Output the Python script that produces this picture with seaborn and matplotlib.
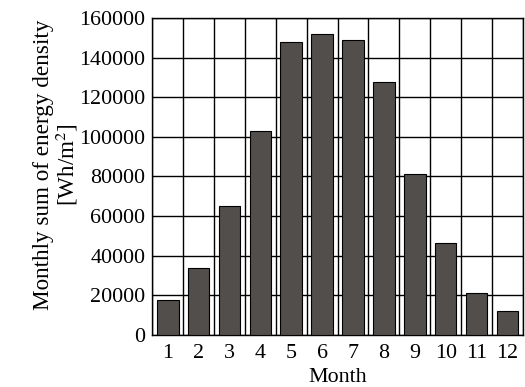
import matplotlib
matplotlib.use("Agg")
import matplotlib.pyplot as plt
from matplotlib.ticker import FixedLocator
import seaborn as sns
import pandas as pd
import numpy as np

months = [1, 2, 3, 4, 5, 6, 7, 8, 9, 10, 11, 12]
energy = [17500, 33500, 65000, 103000, 148000, 152000, 149000, 128000, 81500, 46500, 21000, 12000]
y_ticks = [0, 20000, 40000, 60000, 80000, 100000, 120000, 140000, 160000]

sns.set_theme(style="white")
plt.rcParams["font.family"] = ["Liberation Serif", "DejaVu Serif"]
plt.rcParams["mathtext.fontset"] = "stix"

df = pd.DataFrame({"Month": months, "Energy": energy})

fig, ax = plt.subplots(figsize=(5.25, 3.87), dpi=100)
fig.subplots_adjust(left=0.29, right=0.996, top=0.953, bottom=0.135)

sns.barplot(data=df, x="Month", y="Energy", color="#524e4b", saturation=1,
            edgecolor="black", linewidth=0.8, width=0.7, ax=ax, zorder=3)

ax.set_xlim(-0.5, len(months) - 0.5)
ax.set_ylim(0, 160000)
ax.set_yticks(y_ticks)
ax.set_yticklabels([str(v) for v in y_ticks])
ax.xaxis.set_minor_locator(FixedLocator(np.arange(-0.5, len(months), 1.0)))

# grid: horizontal at each major y tick, vertical between month bars
ax.set_axisbelow(True)
ax.grid(True, axis="y", which="major", color="black", linewidth=1.0)
ax.grid(True, axis="x", which="minor", color="black", linewidth=1.0)
ax.grid(False, axis="x", which="major")

fs = 15.8
ax.tick_params(axis="y", which="both", length=0, labelsize=fs, pad=5, colors="black")
ax.tick_params(axis="x", which="both", length=0, labelsize=fs, pad=7, colors="black")
for s in ax.spines.values():
    s.set_color("black")
    s.set_linewidth(1.0)

ax.set_xlabel("Month", fontsize=fs, color="black", labelpad=3)
ax.set_ylabel("Monthly sum of energy density\n[Wh/m$^2$]", fontsize=16.7,
              color="black", linespacing=1.0)
ax.yaxis.set_label_coords(-0.195, 0.538)

fig.savefig("out.png", dpi=100)
